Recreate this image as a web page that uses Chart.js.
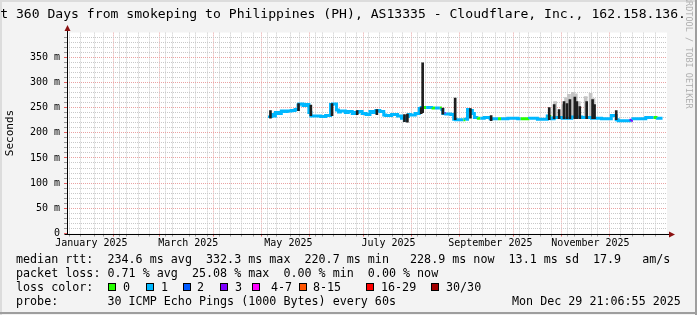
<!DOCTYPE html>
<html>
<head>
<meta charset="utf-8">
<script src="https://cdn.jsdelivr.net/npm/chart.js@4.4.1/dist/chart.umd.min.js"></script>
<style>
  html, body { margin: 0; padding: 0; }
  body { width: 697px; height: 315px; position: relative; overflow: hidden; background: #f3f3f3;
         font-family: 'DejaVu Sans Mono', monospace; color: #000; }
  #chart { position: absolute; left: 0; top: 0; }
  .t { position: absolute; white-space: pre; font-size: 11.7px; line-height: 14px; }
  .title { position: absolute; white-space: pre; font-size: 13.1px; line-height: 16px; left: -23.5px; top: 6px; }
  .box { position: absolute; width: 6px; height: 6px; border: 1px solid #000; top: 283px; }
  .wm { position: absolute; white-space: pre; font-size: 8.5px; line-height: 9px; color: #b0b0b0;
        left: 693px; top: -4px; transform: rotate(90deg); transform-origin: left top; }
</style>
</head>
<body>
<canvas id="chart" width="697" height="315"></canvas>
<div class="title">Last 360 Days from smokeping to Philippines (PH), AS13335 - Cloudflare, Inc., 162.158.136.</div>
<div class="wm">RRDTOOL / TOBI OETIKER</div>
<div class="t" style="left:16px;top:252px">median rtt:  234.6 ms avg  332.3 ms max  220.7 ms min   228.9 ms now  13.1 ms sd  17.9   am/s</div>
<div class="t" style="left:16px;top:266px">packet loss: 0.71 % avg  25.08 % max  0.00 % min  0.00 % now</div>
<div class="t" style="left:16px;top:280px">loss color:</div>
<div id="lossLegend"></div>
<div class="t" style="left:16px;top:294px">probe:       30 ICMP Echo Pings (1000 Bytes) every 60s</div>
<div class="t" style="left:512px;top:294px">Mon Dec 29 21:06:55 2025</div>
<script>
// window: 360 days ending Mon Dec 29 21:06:55 2025, x values are days since window start
const WINDOW_START = Date.UTC(2025, 0, 3, 21, 6, 55);
const WINDOW_DAYS = 360;

const LOSS_COLORS = ['#26ff00', '#00b8ff', '#0059ff', '#7e00ff', '#ff00ff', '#ff5500', '#ff0000', '#a10000'];
const LOSS_LABELS = ['0', '1', '2', '3', '4-7', '8-15', '16-29', '30/30'];

const MONTH_LABELS = ['January 2025', 'March 2025', 'May 2025', 'July 2025', 'September 2025', 'November 2025'];
const LABEL_MONTHS = [0, 2, 4, 6, 8, 10];

// median rtt (ms), stepped; medianLoss = loss colour index of the step starting at that point
const medianDay = [120.6, 121.8, 123.0, 124.2, 126.0, 127.8, 129.6, 131.4, 133.8, 136.2,
  138.0, 138.6, 141.0, 142.8, 144.6, 145.8, 146.4, 151.8, 154.8, 157.8,
  159.0, 161.4, 162.6, 163.8, 166.8, 168.6, 171.0, 172.8, 174.6, 177.0,
  179.4, 181.8, 183.6, 185.4, 187.8, 190.2, 191.4, 195.0, 198.6, 201.0,
  202.8, 204.0, 205.2, 206.4, 209.4, 211.8, 213.0, 214.2, 216.0, 220.2,
  221.4, 224.4, 225.6, 226.2, 227.4, 228.0, 231.0, 232.8, 234.0, 238.8,
  240.0, 241.2, 242.4, 244.2, 245.4, 246.6, 247.8, 249.0, 251.4, 255.0,
  256.2, 259.8, 261.6, 265.8, 271.8, 273.6, 279.0, 283.8, 289.8, 291.0,
  292.2, 294.0, 298.8, 304.8, 310.8, 316.8, 322.8, 328.8, 331.8, 333.0,
  336.6, 340.8, 342.0, 349.8, 352.8, 354.6, 357.0, 360.0];
const medianMs = [234, 232, 236, 233, 240, 238, 243, 242, 243, 244,
  246, 255, 257, 254, 256, 240, 233, 233, 232, 234,
  256, 257, 245, 241, 243, 240, 242, 238, 240, 242,
  238, 236, 242, 240, 244, 242, 235, 234, 236, 233,
  229, 225, 232, 236, 235, 238, 248, 250, 250, 250,
  249, 249, 249, 246, 238, 238, 237, 236, 227, 226,
  226, 227, 246, 244, 238, 230, 230, 229, 229, 230,
  228, 228, 228, 228, 229, 228, 228, 229, 227, 233,
  232, 228, 230, 229, 231, 230, 229, 228, 234, 226,
  224, 224, 225, 228, 230, 230, 230, 229];
const medianLoss = [1, 1, 1, 1, 1, 1, 1, 1, 1, 1,
  1, 1, 1, 1, 1, 1, 1, 1, 1, 1,
  1, 1, 1, 1, 1, 1, 1, 1, 1, 1,
  1, 1, 1, 1, 1, 1, 1, 1, 1, 1,
  1, 1, 1, 1, 1, 1, 1, 0, 1, 0,
  1, 0, 1, 1, 3, 1, 1, 1, 1, 0,
  1, 1, 1, 1, 1, 1, 0, 1, 1, 1,
  1, 0, 1, 1, 1, 0, 1, 1, 1, 0,
  1, 1, 1, 1, 1, 1, 1, 1, 1, 1,
  1, 3, 1, 1, 1, 0, 1, 1];

// smoke (spread of the 30 pings) per interval, ms
const smokeDay = [121.2, 138.3, 145.8, 158.7, 174.0, 186.0, 202.8, 204.6, 213.0, 213.9,
  226.2, 233.7, 243.0, 255.6, 291.0, 294.0, 297.0, 300.0, 301.8, 303.6,
  306.6, 307.8, 309.6, 313.8, 317.4, 318.6, 331.8];
const smokeLow = [229, 244, 234, 234, 236, 236, 222, 221, 238, 240,
  237, 226, 229, 224, 226, 228, 228, 228, 228, 228,
  228, 228, 228, 228, 228, 228, 226];
const smokeHigh = [244, 258, 255, 258, 244, 246, 236, 237, 250, 339,
  249, 269, 248, 234, 250, 256, 246, 262, 258, 266,
  271, 262, 252, 262, 266, 256, 244];

// lighter outer smoke around the busy weeks, ms
const hazeDay = [294.6, 299.4, 301.2, 303.0, 305.4, 307.2, 309.0, 313.2, 316.2, 318.0];
const hazeLow = [232, 232, 232, 232, 232, 232, 232, 232, 232, 232];
const hazeHigh = [262, 256, 270, 276, 280, 277, 262, 272, 278, 268];

const Y_MAX = 398.76;
const GRID_MAJOR = '#eaa3a3';
const GRID_MINOR = '#c9c9c9';
const ARROW = '#8b1111';

function dayOf(y, m, d) {
    return (Date.UTC(y, m, d) - WINDOW_START) / 86400000;
}

function buildXTicks() {
    const ticks = [];
    // weekly minor lines (Mondays)
    for (let t = dayOf(2025, 0, 6); t <= WINDOW_DAYS; t += 7) {
        ticks.push({ value: t, kind: 'minor' });
    }
    for (let m = 1; m < 12; m += 1) {
        const v = dayOf(2025, m, 1);
        const hit = ticks.find(function (tk) { return Math.abs(tk.value - v) < 0.01; });
        if (hit) {
            hit.kind = 'major';
        } else {
            ticks.push({ value: v, kind: 'major' });
        }
    }
    LABEL_MONTHS.forEach(function (m, i) {
        ticks.push({ value: dayOf(2025, m, 1) + 15, kind: 'label', text: MONTH_LABELS[i] });
    });
    ticks.sort(function (a, b) { return a.value - b.value; });
    return ticks.filter(function (tk) { return tk.value >= 0 && tk.value <= WINDOW_DAYS; });
}

const xTicks = buildXTicks();

const framePlugin = {
    id: 'frame',
    beforeDraw: function (chart) {
        const c = chart.ctx;
        const a = chart.chartArea;
        c.save();
        c.fillStyle = '#f3f3f3';
        c.fillRect(0, 0, chart.width, chart.height);
        c.fillStyle = '#dcdcdc';
        c.fillRect(0, 0, chart.width, 2);
        c.fillRect(0, 0, 2, chart.height);
        c.fillStyle = '#9e9e9e';
        c.fillRect(chart.width - 2, 0, 2, chart.height);
        c.fillRect(0, chart.height - 3, chart.width, 2);
        c.fillStyle = '#ffffff';
        c.fillRect(a.left, a.top, a.right - a.left, a.bottom - a.top);
        c.restore();
    },
    afterDraw: function (chart) {
        const c = chart.ctx;
        const a = chart.chartArea;
        const x0 = Math.round(a.left) + 0.5;
        const y0 = Math.round(a.bottom) + 0.5;
        c.save();
        c.strokeStyle = '#000';
        c.lineWidth = 1;
        c.beginPath();
        c.moveTo(x0, y0);
        c.lineTo(x0, 29);
        c.moveTo(x0 - 3, y0);
        c.lineTo(671, y0);
        c.stroke();
        c.fillStyle = ARROW;
        c.beginPath();
        c.moveTo(x0, 25);
        c.lineTo(x0 - 3, 31);
        c.lineTo(x0 + 3, 31);
        c.closePath();
        c.fill();
        c.beginPath();
        c.moveTo(675, y0);
        c.lineTo(669, y0 - 3);
        c.lineTo(669, y0 + 3);
        c.closePath();
        c.fill();
        c.restore();
    },
};

const mono = "'DejaVu Sans Mono', monospace";

function rangePoints(days, lows, highs) {
    return days.map(function (d, i) { return { x: d, y: [lows[i], highs[i]] }; });
}

new Chart(document.getElementById('chart').getContext('2d'), {
    data: {
        datasets: [
            {
                type: 'bar',
                label: 'smoke',
                data: rangePoints(smokeDay, smokeLow, smokeHigh),
                backgroundColor: '#1e1e1e',
                barThickness: 2,
                grouped: false,
                order: 0,
            },
            {
                type: 'line',
                label: 'median rtt',
                data: medianDay.map(function (d, i) { return { x: d, y: medianMs[i] }; }),
                stepped: 'after',
                borderWidth: 3,
                pointRadius: 0,
                borderColor: LOSS_COLORS[1],
                segment: {
                    borderColor: function (ctx) { return LOSS_COLORS[medianLoss[ctx.p0DataIndex]]; },
                },
                order: 1,
            },
            {
                type: 'bar',
                label: 'smoke haze',
                data: rangePoints(hazeDay, hazeLow, hazeHigh),
                backgroundColor: '#c4c4c4',
                barThickness: 3,
                grouped: false,
                order: 2,
            },
        ],
    },
    options: {
        responsive: false,
        animation: false,
        devicePixelRatio: 1,
        layout: { padding: { top: 32.6, right: 30, left: 0, bottom: 0 } },
        plugins: { legend: { display: false }, tooltip: { enabled: false } },
        scales: {
            x: {
                type: 'linear',
                min: 0,
                max: WINDOW_DAYS,
                afterBuildTicks: function (scale) {
                    scale.ticks = xTicks.map(function (tk) { return Object.assign({}, tk); });
                },
                afterFit: function (scale) { scale.height = 81.5; },
                grid: {
                    color: function (ctx) {
                        const k = ctx.tick && ctx.tick.kind;
                        return k === 'major' ? GRID_MAJOR : (k === 'minor' ? GRID_MINOR : 'rgba(0,0,0,0)');
                    },
                    tickColor: function (ctx) {
                        const k = ctx.tick && ctx.tick.kind;
                        return k === 'major' ? '#e06060' : (k === 'minor' ? '#999999' : 'rgba(0,0,0,0)');
                    },
                    tickLength: 3,
                },
                border: { display: false, dash: [1, 1] },
                ticks: {
                    autoSkip: false,
                    maxRotation: 0,
                    minRotation: 0,
                    padding: 1,
                    color: '#000',
                    font: { family: mono, size: 10 },
                    callback: function (value, index, ticks) {
                        const tk = ticks[index];
                        return tk.kind === 'label' ? tk.text : '';
                    },
                },
            },
            y: {
                min: 0,
                max: Y_MAX,
                afterBuildTicks: function (scale) {
                    const t = [];
                    for (let v = 0; v <= 390; v += 10) {
                        t.push({ value: v });
                    }
                    scale.ticks = t;
                },
                afterFit: function (scale) { scale.width = 67; },
                grid: {
                    color: function (ctx) {
                        const v = ctx.tick ? ctx.tick.value : 0;
                        if (v === 0) return 'rgba(0,0,0,0)';
                        return v % 50 === 0 ? GRID_MAJOR : GRID_MINOR;
                    },
                    tickColor: function (ctx) {
                        const v = ctx.tick ? ctx.tick.value : 0;
                        return v % 50 === 0 ? '#e06060' : '#999999';
                    },
                    tickLength: 3,
                },
                border: { display: false, dash: [1, 1] },
                ticks: {
                    autoSkip: false,
                    padding: 4,
                    color: '#000',
                    font: { family: mono, size: 10 },
                    callback: function (value) {
                        if (value % 50 !== 0) return '';
                        return value === 0 ? '0' : value + ' m';
                    },
                },
                title: {
                    display: true,
                    text: 'Seconds',
                    color: '#000',
                    font: { family: mono, size: 11 },
                    padding: { top: 4, bottom: 0 },
                },
            },
        },
    },
    plugins: [framePlugin],
});

// loss colour legend boxes
const BOX_X = [108, 146, 183, 220, 252, 299, 366, 431];
const LBL_X = [123, 161, 197, 235, 271, 313, 381, 446];
const lossLegend = document.getElementById('lossLegend');
LOSS_LABELS.forEach(function (lbl, i) {
    const b = document.createElement('div');
    b.className = 'box';
    b.style.left = BOX_X[i] + 'px';
    b.style.background = LOSS_COLORS[i];
    lossLegend.appendChild(b);
    const s = document.createElement('div');
    s.className = 't';
    s.style.left = LBL_X[i] + 'px';
    s.style.top = '280px';
    s.textContent = lbl;
    lossLegend.appendChild(s);
});
</script>
</body>
</html>
